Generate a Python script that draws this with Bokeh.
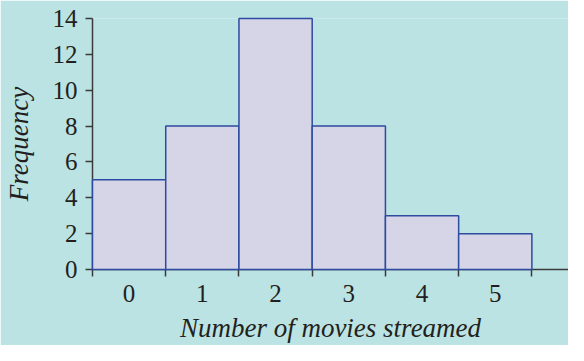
from bokeh.plotting import figure
from bokeh.models import FixedTicker, Range1d
from bokeh.embed import file_html
from bokeh.resources import INLINE

# Data
movies = [0, 1, 2, 3, 4, 5]
frequency = [5, 8, 14, 8, 3, 2]
y_ticks = [0, 2, 4, 6, 8, 10, 12, 14]
x_title = "Number of movies streamed"
y_title = "Frequency"

BG = "#bbe3e3"
FONT = "Liberation Serif"
TXT = "#231f20"
AX = "#3a3a3a"

p = figure(width=568, height=345, output_backend="svg", toolbar_location=None,
           x_range=Range1d(-0.5, 6.0), y_range=Range1d(0, 14),
           min_border_left=90, min_border_right=0, min_border_top=18, min_border_bottom=75)
p.background_fill_color = BG
p.border_fill_color = BG
p.outline_line_color = None
p.grid.visible = False

left = [m - 0.5 for m in movies]
right = [m + 0.5 for m in movies]
r = p.quad(left=left, right=right, bottom=0, top=frequency,
           fill_color="#d6d5e8", line_color="#2e4b9f", line_width=1.5)
r.level = "overlay"

xa = p.xaxis[0]
xa.ticker = FixedTicker(ticks=movies, minor_ticks=[m - 0.5 for m in movies] + [5.5])
xa.major_tick_line_color = None
xa.major_tick_out = 7
xa.major_tick_in = 0
xa.minor_tick_out = 7
xa.minor_tick_in = 0
xa.minor_tick_line_color = AX
xa.minor_tick_line_width = 1.5
xa.axis_line_color = AX
xa.axis_line_width = 1.5
xa.major_label_text_font = FONT
xa.major_label_text_font_size = "25px"
xa.major_label_text_color = TXT
xa.major_label_standoff = 8
xa.axis_label = x_title
xa.axis_label_text_font = FONT
xa.axis_label_text_font_style = "italic"
xa.axis_label_text_font_size = "27px"
xa.axis_label_text_color = TXT
xa.axis_label_standoff = 8

ya = p.yaxis[0]
ya.ticker = FixedTicker(ticks=y_ticks, minor_ticks=[])
ya.major_tick_out = 7
ya.major_tick_in = 0
ya.major_tick_line_color = AX
ya.major_tick_line_width = 1.5
ya.axis_line_color = AX
ya.axis_line_width = 1.5
ya.major_label_text_font = FONT
ya.major_label_text_font_size = "25px"
ya.major_label_text_color = TXT
ya.major_label_standoff = 8
ya.axis_label = y_title
ya.axis_label_text_font = FONT
ya.axis_label_text_font_style = "italic"
ya.axis_label_text_font_size = "27px"
ya.axis_label_text_color = TXT
ya.axis_label_standoff = 16

open("out.html", "w").write(file_html(p, INLINE))
